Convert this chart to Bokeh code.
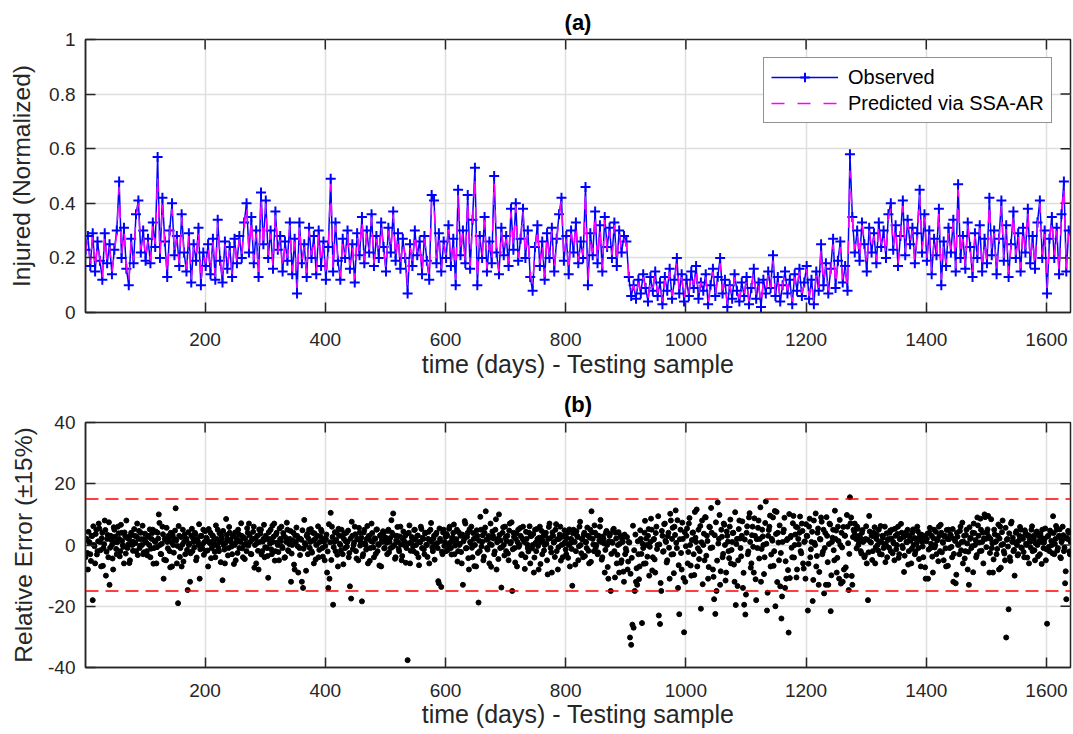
from bokeh.plotting import figure
from bokeh.models import Range1d, FixedTicker, Span
from bokeh.layouts import column
from bokeh.embed import file_html
from bokeh.resources import INLINE

# ---------------- data ----------------
obs_step = 4   # one observed / predicted value every 4 days

observed = [
    0.23, 0.28, 0.17, 0.29, 0.15, 0.26, 0.19, 0.12, 0.29, 0.18, 0.25, 0.14, 0.23, 0.3, 0.48, 0.2, 0.31, 0.16, 0.1, 0.27, 0.18, 0.36, 0.41, 0.22, 0.3,
    0.19, 0.27, 0.18, 0.33, 0.24, 0.57, 0.2, 0.42, 0.26, 0.13, 0.3, 0.4, 0.21, 0.28, 0.17, 0.36, 0.22, 0.15, 0.29, 0.11, 0.25, 0.19, 0.31, 0.1, 0.22,
    0.17, 0.25, 0.14, 0.27, 0.12, 0.34, 0.19, 0.11, 0.26, 0.16, 0.24, 0.13, 0.27, 0.18, 0.28, 0.2, 0.33, 0.4, 0.22, 0.35, 0.18, 0.3, 0.13, 0.44, 0.25,
    0.41, 0.2, 0.3, 0.16, 0.37, 0.23, 0.28, 0.15, 0.26, 0.19, 0.33, 0.14, 0.27, 0.07, 0.33, 0.18, 0.25, 0.13, 0.31, 0.2, 0.28, 0.14, 0.3, 0.17, 0.26,
    0.12, 0.24, 0.49, 0.15, 0.33, 0.19, 0.12, 0.27, 0.2, 0.3, 0.16, 0.25, 0.11, 0.29, 0.21, 0.35, 0.18, 0.3, 0.22, 0.36, 0.17, 0.28, 0.2, 0.33, 0.24,
    0.15, 0.31, 0.22, 0.37, 0.19, 0.29, 0.16, 0.27, 0.2, 0.07, 0.25, 0.17, 0.3, 0.21, 0.26, 0.14, 0.28, 0.19, 0.12, 0.43, 0.41, 0.18, 0.29, 0.15, 0.26,
    0.2, 0.32, 0.17, 0.27, 0.1, 0.45, 0.21, 0.3, 0.18, 0.43, 0.16, 0.34, 0.53, 0.1, 0.28, 0.2, 0.35, 0.15, 0.26, 0.18, 0.5, 0.22, 0.14, 0.31, 0.21,
    0.28, 0.17, 0.38, 0.23, 0.4, 0.19, 0.27, 0.38, 0.2, 0.3, 0.13, 0.08, 0.24, 0.32, 0.17, 0.26, 0.12, 0.29, 0.2, 0.31, 0.15, 0.27, 0.36, 0.42, 0.19,
    0.28, 0.14, 0.3, 0.22, 0.33, 0.18, 0.26, 0.2, 0.46, 0.1, 0.29, 0.21, 0.37, 0.18, 0.32, 0.15, 0.35, 0.24, 0.31, 0.2, 0.33, 0.17, 0.3, 0.22, 0.28,
    0.26, 0.13, 0.06, 0.1, 0.05, 0.12, 0.07, 0.14, 0.09, 0.04, 0.13, 0.08, 0.15, 0.06, 0.11, 0.03, 0.13, 0.08, 0.16, 0.05, 0.12, 0.2, 0.07, 0.14, 0.04,
    0.12, 0.06, 0.15, 0.09, 0.17, 0.05, 0.11, 0.08, 0.14, 0.03, 0.1, 0.16, 0.06, 0.13, 0.2, 0.07, 0.12, 0.02, 0.1, 0.05, 0.14, 0.08, 0.04, 0.11, 0.06,
    0.13, 0.03, 0.09, 0.16, 0.05, 0.11, 0.02, 0.12, 0.07, 0.15, 0.09, 0.21, 0.06, 0.13, 0.04, 0.1, 0.15, 0.07, 0.12, 0.03, 0.14, 0.08, 0.16, 0.06, 0.11,
    0.17, 0.05, 0.12, 0.03, 0.15, 0.08, 0.25, 0.1, 0.18, 0.07, 0.16, 0.27, 0.09, 0.19, 0.26, 0.11, 0.17, 0.08, 0.58, 0.35, 0.22, 0.3, 0.19, 0.33, 0.25,
    0.15, 0.31, 0.22, 0.29, 0.18, 0.33, 0.24, 0.3, 0.2, 0.36, 0.4, 0.23, 0.32, 0.17, 0.28, 0.41, 0.21, 0.34, 0.25, 0.31, 0.18, 0.29, 0.45, 0.22, 0.36,
    0.19, 0.3, 0.14, 0.27, 0.21, 0.38, 0.1, 0.26, 0.17, 0.31, 0.22, 0.34, 0.15, 0.47, 0.2, 0.28, 0.16, 0.33, 0.24, 0.13, 0.29, 0.2, 0.32, 0.15, 0.27,
    0.18, 0.42, 0.21, 0.3, 0.14, 0.27, 0.41, 0.19, 0.32, 0.13, 0.25, 0.37, 0.2, 0.29, 0.15, 0.31, 0.22, 0.38, 0.18, 0.28, 0.16, 0.33, 0.41, 0.2, 0.3,
    0.07, 0.27, 0.35, 0.2, 0.31, 0.14, 0.36, 0.48, 0.15, 0.3,
]

predicted = [
    0.22, 0.27, 0.18, 0.28, 0.16, 0.25, 0.2, 0.13, 0.28, 0.19, 0.24, 0.15, 0.22, 0.29, 0.46, 0.21, 0.3, 0.17, 0.11, 0.26, 0.19, 0.35, 0.4, 0.23, 0.29,
    0.2, 0.26, 0.19, 0.32, 0.25, 0.5, 0.21, 0.4, 0.25, 0.14, 0.29, 0.38, 0.22, 0.27, 0.18, 0.35, 0.21, 0.16, 0.28, 0.12, 0.24, 0.2, 0.3, 0.11, 0.21,
    0.18, 0.24, 0.15, 0.26, 0.13, 0.33, 0.2, 0.12, 0.25, 0.17, 0.23, 0.14, 0.26, 0.19, 0.27, 0.21, 0.32, 0.39, 0.23, 0.34, 0.19, 0.29, 0.14, 0.42, 0.24,
    0.4, 0.21, 0.29, 0.17, 0.36, 0.22, 0.27, 0.16, 0.25, 0.2, 0.32, 0.15, 0.26, 0.09, 0.32, 0.19, 0.24, 0.14, 0.3, 0.21, 0.27, 0.15, 0.29, 0.18, 0.25,
    0.13, 0.23, 0.47, 0.16, 0.32, 0.2, 0.13, 0.26, 0.21, 0.29, 0.17, 0.24, 0.12, 0.28, 0.22, 0.34, 0.19, 0.29, 0.23, 0.35, 0.18, 0.27, 0.21, 0.32, 0.23,
    0.16, 0.3, 0.23, 0.36, 0.2, 0.28, 0.17, 0.26, 0.21, 0.1, 0.24, 0.18, 0.29, 0.22, 0.25, 0.15, 0.27, 0.2, 0.13, 0.41, 0.4, 0.19, 0.28, 0.16, 0.25,
    0.21, 0.31, 0.18, 0.26, 0.12, 0.43, 0.22, 0.29, 0.19, 0.41, 0.17, 0.33, 0.5, 0.12, 0.27, 0.21, 0.34, 0.16, 0.25, 0.19, 0.48, 0.23, 0.15, 0.3, 0.22,
    0.27, 0.18, 0.37, 0.24, 0.39, 0.2, 0.26, 0.37, 0.21, 0.29, 0.14, 0.1, 0.23, 0.31, 0.18, 0.25, 0.13, 0.28, 0.21, 0.3, 0.16, 0.26, 0.35, 0.41, 0.2,
    0.27, 0.15, 0.29, 0.23, 0.32, 0.19, 0.25, 0.21, 0.44, 0.12, 0.28, 0.22, 0.36, 0.19, 0.31, 0.16, 0.34, 0.23, 0.3, 0.21, 0.32, 0.18, 0.29, 0.23, 0.27,
    0.25, 0.14, 0.08, 0.1, 0.06, 0.11, 0.08, 0.13, 0.09, 0.05, 0.12, 0.09, 0.14, 0.07, 0.11, 0.04, 0.12, 0.09, 0.15, 0.06, 0.11, 0.18, 0.08, 0.13, 0.05,
    0.11, 0.07, 0.14, 0.1, 0.16, 0.06, 0.11, 0.09, 0.13, 0.04, 0.1, 0.15, 0.07, 0.12, 0.18, 0.08, 0.11, 0.03, 0.1, 0.06, 0.13, 0.09, 0.05, 0.1, 0.07,
    0.12, 0.04, 0.09, 0.15, 0.06, 0.1, 0.03, 0.11, 0.08, 0.14, 0.09, 0.19, 0.07, 0.12, 0.05, 0.1, 0.14, 0.08, 0.11, 0.04, 0.13, 0.09, 0.15, 0.07, 0.1,
    0.16, 0.06, 0.11, 0.04, 0.14, 0.09, 0.23, 0.11, 0.17, 0.08, 0.15, 0.25, 0.1, 0.18, 0.24, 0.12, 0.16, 0.09, 0.52, 0.34, 0.23, 0.29, 0.2, 0.32, 0.26,
    0.17, 0.3, 0.23, 0.28, 0.19, 0.32, 0.25, 0.29, 0.21, 0.35, 0.38, 0.24, 0.31, 0.18, 0.27, 0.39, 0.22, 0.33, 0.26, 0.3, 0.19, 0.28, 0.43, 0.23, 0.35,
    0.2, 0.29, 0.15, 0.26, 0.22, 0.37, 0.12, 0.25, 0.18, 0.3, 0.23, 0.33, 0.16, 0.45, 0.21, 0.27, 0.17, 0.32, 0.23, 0.14, 0.28, 0.21, 0.31, 0.16, 0.26,
    0.19, 0.4, 0.22, 0.29, 0.15, 0.26, 0.39, 0.2, 0.31, 0.14, 0.24, 0.36, 0.21, 0.28, 0.16, 0.3, 0.23, 0.37, 0.19, 0.27, 0.17, 0.32, 0.4, 0.21, 0.29,
    0.09, 0.26, 0.34, 0.21, 0.3, 0.15, 0.35, 0.46, 0.16, 0.29,
]

# relative error (%) on odd days 1, 3, 5, ...
rel_error_odd = [
    -4, 2, -8, 1, -3, 3, -18, 0, -6, 5, -2, 7, 1, -7, 4, -1, 8, -10, 2, -4, -13, 3, 0, -8, 5, 1, -3, 6, 2, -2, 4, 0, -6, 3, 8, -1, 2, -5, 4, 0, 1, 3, -2, 7, 2, -1, 4, 0, -3, 2,
    1, -2, 3, 0, -4, 2, 5, -1, 1, -6, 4, 10, 0, -3, 6, -11, 2, -5, 1, 3, -2, 4, -7, 0, 2, 12, -6, -19, 3, -1, -7, 5, 1, -3, 2, -14.7, 0, -12, 3, -2, 1, 4, -5, 2, 0, -11, 3, -1, 5, 1,
    -2, 2, -7, 1, 4, -1, 3, 0, -4, 2, 5, -2, 1, 3, -11.5, 0, -6, 8.5, 2, -1, 4, 1, -3, 3, 0, -5, 2, 5, -1, 1, 3, -4, 0, 2, -2, 4, 7, 1, -3, 2, 6, 0, -6, 3, -8, 1, 5, -2, 2, -4,
    3, -1, -10.7, 2, 5, -3, 1, 7, -2, 4, 0, -5, 2, 6, -1, 3, -4, 1, 5, -2, 2, -12, 0, 4, -8, 1, 3, -9, -1, 2, -12, -14, 8.2, 0, 3, -3, 5, 1, -2, 4, -6, 2, 0, 3, -4, 1, 5, -1, 2, -5,
    2, -9, -14, -11, 10.5, 6, -19.5, 1, -2, 4, -7, 3, 0, 5, -3, 2, -1, 4, 1, -4, -13.5, -17.5, 3, 0, 6, -2, 2, -5, 4, 1, -18.4, -3, 5, 0, 2, -6, 3, -1, 7, 1, -4, 2, 5, -2, 0, 3, -7, 1, 4, -1,
    2, -3, 5, 1, -1, 4, 10.3, 0, -4, 3, 1, -2, 6, -5, 2, 0, 3, -1, -37.6, 4, -6, 1, 2, -2, 5, 0, 3, -4, 1, 6, -1, 2, -3, 4, 0, 2, -6, 5, 1, -2, 3, 0, 4, -1, -12.5, 2, -13.7, -3, 5, 1,
    -2, 3, 0, 6, -1, 2, 4, -3, 1, 5, -2, 0, 3, -6, -13, 2, 7, -1, 4, -8, 1, 6, -4, 2, 0, -7, 3, -18.8, -2, 5, 1, -5, 4, 11, -1, 2, -6, 7, 0, 3, -3, 5, -8, 2, 10, -1, -13.9, 4, 0, 6,
    -2, 3, -5, 7, 1, -15, 4, -1, 2, -7, 5, 0, 3, -3, 6, 1, -4, 2, -1, 4, -6, 3, 0, -9, 5, -2, 2, -8, 6, 1, -3, 3, 0, 4, -5, 2, 7, -1, -9, 3, 1, 5, -2, -8, 2, 6, 0, -4, 3, 1,
    -3, 4, 0, -7, 2, -13.3, 5, 1, -2, 3, -5, 6, 0, 2, -4, 4, 1, -1, 3, -6, 5, 11, 2, -2, 4, 0, -3, 3, 6, 1, -4, 2, -9, 4, 0, -11, 3, -15, 1, 5, -2, 4, -6, 0, -9, 3, -5, 1, -12, -3,
    -2, -8, 1, -30.2, -32.6, -26, -27, -15, -12, -13, -3, -7, 2, -25.5, -1, 4, -6, 0, 3, -10, 1, 5, -4, 2, -9, 6, 0, -23, -25.8, -15, 3, -2, 7, 1, -5, 4, -11, 8, 2, -3, 6, 11.3, -1, -14, -22.6, 5, -8, 2, -28.5, -12,
    3, -6, 7, 0, -10, 4, -3, 10.8, 1, -7, 5, -2, -20.8, 8, 0, -5, 9, 3, -11, 6, -1, 4, -8, -17.7, -22.5, -15, 13.9, 2, -13, 5, -4, 7, 0, -9, 3, -2, 6, -6, 1, 4, -12, -19.6, 2, -5, 8, -1, 3, -14, -19.5, -22.7,
    4, -3, 9, 1, -6, 6, -9, 3, -18, -1, 8, 2, -12, 5, 0, -4, 14.2, -21.4, 3, 6, -7, 2, 9, -2, -20, 10.8, 4, -5, -13.5, -24, 1, 5, -14, -11, 2, -28.6, -10.8, 3, -4, 9.5, 0, 6, -8, 2, 4, -2, 7, -6, 1, -11,
    3, -21.4, 6, -4, 1, -18.3, 8, 0, -7, 4, -13, 2, 9, -3, 5, -1, -13, 3, -13, 7, -21.6, 1, 5, -5, 2, -9, 6, -11, 0, 4, -12, -8, 3, -10, 6, -14.7, 15.6, 9, -13, 5, 7, 2, 6, 0, 3, -2, 4, 1, -4, 2,
    -6, -18, 9.5, 1, 3, -2, 4, -6, 2, 0, 5, -3, 1, 3, -1, 6, 0, -4, 2, 4, -2, 5, 1, -5, 3, 0, 6, -3, 2, 4, -1, -8.8, 3, 1, 5, -2, 2, -6, 4, 0, -3, 2, 6, -1, 3, -7, 1, -4, 2, -11,
    2, -11, 4, -1, 3, -9, 5, 0, -3, 2, 6, -2, 4, 1, -5, 3, -7, 2, 5, -1, 3, -4, -12, 2, -12.5, 4, 0, -3, 6, 1, -6, 3, -2, 5, -8, -13, 2, -1, 4, 7, 0, -4, 9, 3, -2, 5, 1, -6, 10, 2,
    4, 9.5, -9, 2, -1, -9, 5, 1, -3, 3, -8, 6, 0, 8, -2, -5, -30.2, 2, -21, -4, 7, 1, -2, -10, 4, 0, -3, 3, 5, -1, 2, -4, 4, 0, 3, -6, 1, 5, -2, 2, -5, 4, 0, 3, -3, 1, 5, -1, 2, -5,
    -25.7, 3, -2, 4, 0, 9.4, -3, 2, 5, -1, 3, -4, 1, 6, -2, -12.5, -17.7, 2, 4, -3,
]

# relative error (%) on even days 2, 4, 6, ...
rel_error_even = [
    1.8, -2.6, 4.3, 0.7, -5.2, 2.9, 6.1, -0.4, 3.6, -3.1, 1.2, 5.4, -1.7, 2.2, -6.8, 0.3, 4.9, -2.2, 3.3, 7.4, -0.9, 1.6, -4.4, 5.8, 2.7, -1.3, 0.9, 3.8, -3.7, 6.6, 1.4, -0.6, 4.1, -2.8, 2.4, 0.2, -5.9, 3.1, 1.1, -1.9, 5.2, 0.6, 2.8, -3.3, 4.6, -0.2, 1.9, 6.3, -2.4, 3.7,
    0.8, -3.4, 2.6, 5.1, -1.2, 3.9, -6.1, 1.3, 4.4, -0.7, 2.1, 7.2, -2.9, 0.4, 3.5, -4.8, 1.7, 5.6, -1.1, 2.3, -7.3, 0.9, 3.2, -2.5, 4.7, 1.5, -0.3, 6.2, -3.9, 2.6, 0.1, -5.4, 3.4, 1.8, -1.6, 4.2, 0.5, -2.7, 5.3, 2.2, -0.8, 3.6, -4.1, 1.2, 6.8, -1.4, 2.9, 0.3, -3.2, 4.5,
    2.4, -1.8, 5.2, 0.6, -4.3, 3.1, 1.4, -2.2, 6.4, 0.2, -0.9, 3.8, -5.6, 2.1, 4.6, -1.5, 0.7, 3.3, -3.4, 5.9, 1.6, -0.5, 2.7, -6.2, 4.1, 0.9, -2.6, 3.5, 1.3, 7.1, -1.1, 2.5, -4.6, 0.4, 5.5, -0.2, 3.2, -2.9, 1.8, 4.3, -7.4, 2.2, 0.6, -1.9, 5.1, 3.7, -3.1, 1.1, 6.6, -0.7,
    1.9, -3.6, 4.2, 0.5, -1.4, 6.3, 2.7, -5.1, 3.4, 0.8, -2.3, 5.4, 1.2, -0.6, 3.9, -4.2, 2.4, 7.3, -1.7, 0.3, 4.6, -2.8, 1.5, -6.4, 3.1, 5.7, -0.4, 2.2, -3.3, 1.7, 4.8, -1.2, 0.6, -8.4, 3.6, 2.1, -0.9, 5.2, -2.5, 1.4, 3.8, -4.7, 0.2, 6.1, -1.6, 2.8, 4.4, -3.8, 1.1, -0.3,
    3.4, -2.1, 6.8, 0.9, -4.9, 2.6, -0.7, 4.2, 1.6, -3.2, 5.3, 0.4, -1.8, 2.9, -6.3, 3.7, 1.2, -0.5, 4.7, -2.6, 2.1, 7.6, -1.3, 0.8, 3.5, -4.4, 1.9, 5.6, -0.2, 2.4, -3.7, 4.1, 0.6, -1.5, 6.2, 2.8, -5.2, 1.3, 3.9, -0.8, 2.2, -2.9, 5.1, 0.3, -6.7, 3.3, 1.7, 4.5, -1.1, 2.5,
    0.7, 4.6, -2.4, 2.3, 8.1, -0.6, 3.2, -4.5, 1.5, 5.9, -1.2, 2.8, 0.2, -3.6, 4.4, 1.1, -5.8, 3.7, 0.5, 6.4, -1.9, 2.6, -0.4, 4.9, 1.8, -2.7, 3.1, -6.6, 0.9, 5.2, 2.4, -1.4, 3.8, 0.1, -3.9, 4.3, 1.6, 7.2, -0.8, 2.1, -4.8, 3.5, 0.6, -11.8, 5.4, 1.3, -2.2, 4.1, -0.3, 2.7,
    3.6, -1.6, 5.3, 0.8, -3.1, 2.5, 6.7, -0.2, 1.9, -5.4, 4.2, 0.4, -2.3, 3.4, 1.2, 7.8, -1.1, 2.7, -4.3, 5.1, 0.6, -0.9, 3.9, -6.9, 2.2, 4.8, -2.6, 1.4, 9.2, -0.5, 3.1, -3.8, 5.7, 1.7, -1.5, 2.9, 0.3, -7.1, 4.4, 2.1, -2.1, 8.4, 0.9, -4.6, 3.3, 1.5, -0.7, 5.8, -3.4, 2.4,
    1.3, -2.8, 4.7, 0.5, 7.4, -1.4, 2.6, -5.7, 3.8, 0.9, -0.6, 5.5, -3.3, 2.1, 1.6, -7.8, 4.3, 0.2, -2.1, 6.1, 2.9, -1.1, 3.6, -4.1, 0.7, 5.2, -0.3, 2.4, -6.2, 4.6, 1.4, -1.8, 3.2, 0.4, -9.6, 5.9, 2.2, -2.4, 4.1, 0.8, -3.9, 6.8, 1.9, -0.7, 3.4, -5.1, 2.7, 0.3, 4.8, -1.5,
    2.3, -4.2, 5.1, 0.6, -1.3, 3.8, 1.1, -6.4, 4.5, 2.6, -0.4, 7.6, -2.7, 1.8, 3.3, -3.6, 0.9, 5.7, -1.9, 2.4, -5.5, 4.1, 0.2, 6.4, -0.8, 3.1, -2.4, 1.5, 8.2, -4.8, 2.8, 0.5, -1.6, 4.6, -7.2, 1.2, 3.7, -2.9, 0.7, 5.3, -10.6, 2.1, -3.2, 4.2, 0.4, -5.8, 1.9, -8.7, 3.4, -1.2,
    2.6, -5.4, 0.8, -9.4, -4.2, 6.3, -1.7, 3.4, -7.6, 1.2, -11.2, 4.8, -2.9, 0.4, -6.1, 7.9, 2.1, -3.8, 5.2, -0.6, 8.6, -8.3, 1.7, -4.7, 3.9, -1.3, 9.4, 0.2, -12.4, 4.6, -2.2, 6.8, 1.4, -5.7, 2.9, -0.9, 10.2, -3.1, 5.6, -9.2, 3.3, 0.7, 8.1, -6.6, 1.9, -2.6, 7.3, -10.8, 4.2, -0.4,
    5.4, -2.3, 8.8, -6.7, 1.6, 4.1, -9.8, 2.4, 11.6, -1.1, -4.6, 6.2, 0.9, -12.8, 3.7, 9.1, -3.5, 1.3, -7.2, 5.8, 12.1, -0.8, -10.4, 3.2, 7.4, -5.1, 0.5, 9.8, -8.6, 2.7, -2.9, 6.6, -11.6, 4.4, 1.1, -4.3, 8.3, -1.6, 3.9, -6.4, 10.7, 0.3, -13.4, 5.2, 2.1, -3.7, 7.7, -9.1, 1.8, -16.2,
    6.1, -2.1, 10.4, -7.4, 3.2, -0.6, 8.7, -11.2, 1.9, 5.6, -4.4, 12.3, -1.3, 2.8, -9.5, 7.2, 0.4, -15.6, 4.9, 9.6, -3.1, 1.4, -6.8, 11.1, 3.6, -12.1, 0.8, 6.4, -2.6, -16.8, 4.2, 8.9, -5.3, 1.6, -8.2, 10.1, 2.5, -0.9, 7.1, -4.1, 3.4, -10.6, 5.7, 0.2, 9.3, -2.7, 4.6, -7.7, 1.2, 6.8,
    2.9, -6.1, 8.6, -1.4, 4.3, -11.4, 0.7, 10.3, -3.6, 5.4, -8.8, 1.8, 7.6, -2.2, -15.8, 3.9, 9.1, -5.6, 0.3, 6.7, -9.9, 2.4, -1.7, 11.2, 4.7, -4.2, 1.3, 8.2, -12.6, -0.8, 5.9, 3.1, -7.3, 9.8, 0.6, -2.9, 7.1, -10.1, 2.6, 4.4, 3.2, -1.1, 5.3, 0.7, 2.4, -2.8, 4.9, 1.5, -3.4, 6.1,
    1.7, -2.4, 4.4, 0.8, -4.9, 2.9, 5.8, -0.7, 3.3, -1.8, 1.1, 6.2, -3.1, 2.4, 0.3, -5.6, 3.8, 1.6, -0.9, 4.7, 2.1, -2.7, 0.5, 5.3, -1.4, 3.6, -4.2, 1.9, 6.9, -0.3, 2.6, -3.5, 4.1, 0.9, -6.4, 3.1, 1.4, -1.2, 5.1, 2.3, -2.1, 0.6, 4.5, -4.6, 1.8, 3.4, -0.5, 2.9, -7.3, 1.2,
    3.7, -1.5, 5.6, 0.4, -3.8, 2.2, -0.8, 4.3, 1.5, -5.3, 3.1, 6.6, -2.4, 0.7, 2.8, -1.1, 4.9, -6.8, 1.9, 3.5, -0.6, 5.2, -2.9, 1.3, -9.7, 2.7, 0.2, 4.6, -1.7, 7.3, 1.1, -4.4, 3.3, 0.5, -2.2, 5.8, 2.4, -0.4, -8.9, 3.9, 1.6, -3.3, 6.4, 0.8, 8.6, -1.9, 4.1, 2.2, 9.1, -0.7,
    5.1, 2.7, -2.6, 8.4, 0.6, -4.7, 3.5, 1.2, -1.3, 6.7, 2.1, -7.4, 4.2, 0.3, -2.8, 5.6, 1.7, -0.5, 3.8, -5.2, 7.6, 2.4, -1.6, 0.9, 4.5, -3.4, 1.4, 5.9, -0.8, 2.6, -2.3, 4.8, 0.4, -4.1, 3.2, 1.8, -0.9, 6.1, 2.9, -1.7, 0.6, 4.4, -3.7, 1.3, 3.6, -6.2, 2.2, 0.8, 5.4, -1.4,
    2.8, -0.6, 4.7, 1.3, -2.7, 3.9, 0.4, 6.2, -1.8, 2.5, 5.1, -4.3, 1.6, 3.2, -0.9, -8.6, 2.3, 4.6, -2.1, 1.1,
]

x_ticks = [200, 400, 600, 800, 1000, 1200, 1400, 1600]
ya_ticks = [0, 0.2, 0.4, 0.6, 0.8, 1]
ya_labels = ["0", "0.2", "0.4", "0.6", "0.8", "1"]
yb_ticks = [-40, -20, 0, 20, 40]
yb_labels = ["-40", "-20", "0", "20", "40"]
error_band = [15, -15]

obs_days = [1 + obs_step * i for i in range(len(observed))]
err_days = [1 + 2 * i for i in range(len(rel_error_odd))] + [2 + 2 * i for i in range(len(rel_error_even))]
err_vals = rel_error_odd + rel_error_even

# ---------------- layout / styling constants ----------------
FONT = "Liberation Sans"
AX = "#262626"
GRID = "#dedede"
W = 1073
BORDER_L, BORDER_R = 85, 3
FRAME_W = W - BORDER_L - BORDER_R
TICK_LEN = 10
X_START, X_END = 1, 1640


def style_axis(ax, ticks, label_standoff, axis_label_standoff, label_size):
    ax.ticker = FixedTicker(ticks=ticks)
    ax.major_tick_in = TICK_LEN
    ax.major_tick_out = 0
    ax.minor_tick_line_color = None
    ax.major_tick_line_color = AX
    ax.major_tick_line_width = 1.5
    ax.axis_line_color = AX
    ax.axis_line_width = 1.5
    ax.major_label_text_font = FONT
    ax.major_label_text_font_size = "19px"
    ax.major_label_text_color = AX
    ax.major_label_standoff = label_standoff
    ax.axis_label_text_font = FONT
    ax.axis_label_text_font_size = label_size
    ax.axis_label_text_font_style = "normal"
    ax.axis_label_text_color = AX
    ax.axis_label_standoff = axis_label_standoff


def style_fig(p, title_standoff):
    p.title.align = "center"
    p.title.vertical_align = "middle"
    p.title.text_font = FONT
    p.title.text_font_size = "22px"
    p.title.text_font_style = "bold"
    p.title.text_color = "#000000"
    p.title.standoff = title_standoff
    p.outline_line_color = AX
    p.outline_line_width = 1.5
    p.xgrid.grid_line_color = GRID
    p.ygrid.grid_line_color = GRID
    p.xgrid.grid_line_width = 1.5
    p.ygrid.grid_line_width = 1.5
    p.background_fill_color = "white"
    p.border_fill_color = "white"


def mirror_ticks(p, y_ticks, y_lo, y_hi, frame_h):
    """Inward tick marks on the top and right edges of the box (as MATLAB draws them)."""
    dy = TICK_LEN * (y_hi - y_lo) / frame_h
    dx = TICK_LEN * (X_END - X_START) / FRAME_W
    p.segment(x0=x_ticks, y0=[y_hi] * len(x_ticks), x1=x_ticks, y1=[y_hi - dy] * len(x_ticks),
              line_color=AX, line_width=1.5)
    p.segment(x0=[X_END] * len(y_ticks), y0=y_ticks, x1=[X_END - dx] * len(y_ticks), y1=y_ticks,
              line_color=AX, line_width=1.5)


# ---------------- panel (a) ----------------
A_TOP, A_FRAME_H, A_BOTTOM = 39, 273, 72
p1 = figure(width=W, height=A_TOP + A_FRAME_H + A_BOTTOM, title="(a)",
            x_range=Range1d(X_START, X_END), y_range=Range1d(0, 1),
            output_backend="svg", toolbar_location=None,
            min_border_left=BORDER_L, min_border_right=BORDER_R,
            min_border_top=A_TOP, min_border_bottom=A_BOTTOM)
style_fig(p1, 7)
p1.xgrid.ticker = FixedTicker(ticks=x_ticks)
p1.ygrid.ticker = FixedTicker(ticks=ya_ticks)
style_axis(p1.xaxis[0], x_ticks, 20, 1, "25px")
style_axis(p1.yaxis[0], ya_ticks, 10, 11, "24.5px")
p1.yaxis[0].major_label_overrides = dict(zip(ya_ticks, ya_labels))
p1.xaxis[0].axis_label = "time (days) - Testing sample"
p1.yaxis[0].axis_label = "Injured (Normalized)"
mirror_ticks(p1, ya_ticks[1:-1], 0, 1, A_FRAME_H)

p1.line(obs_days, observed, line_color="#0000ff", line_width=1.5, legend_label="Observed")
p1.scatter(obs_days, observed, marker="cross", size=10, line_color="#0000ff",
           line_width=2, legend_label="Observed")
p1.line(obs_days, predicted, line_color="#ff00ff", line_width=1.5, line_dash="13 13",
        legend_label="Predicted via SSA-AR")

lg = p1.legend[0]
lg.location = (678, 189)
lg.border_line_color = AX
lg.border_line_width = 1.5
lg.background_fill_alpha = 1
lg.label_text_font = FONT
lg.label_text_font_size = "20px"
lg.label_text_color = "#000000"
lg.glyph_width = 67
lg.glyph_height = 24
lg.label_height = 24
lg.spacing = 2
lg.padding = 7
lg.label_standoff = 10

# ---------------- panel (b) ----------------
B_TOP, B_FRAME_H, B_BOTTOM = 38, 245, 67
p2 = figure(width=W, height=B_TOP + B_FRAME_H + B_BOTTOM, title="(b)",
            x_range=Range1d(X_START, X_END), y_range=Range1d(-40, 40),
            output_backend="svg", toolbar_location=None,
            min_border_left=BORDER_L, min_border_right=BORDER_R,
            min_border_top=B_TOP, min_border_bottom=B_BOTTOM)
style_fig(p2, 10)
p2.xgrid.ticker = FixedTicker(ticks=x_ticks)
p2.ygrid.ticker = FixedTicker(ticks=yb_ticks)
style_axis(p2.xaxis[0], x_ticks, 16, 0, "25px")
style_axis(p2.yaxis[0], yb_ticks, 10, 8, "24.5px")
p2.yaxis[0].major_label_overrides = dict(zip(yb_ticks, yb_labels))
p2.xaxis[0].axis_label = "time (days) - Testing sample"
p2.yaxis[0].axis_label = "Relative Error (\u00b115%)"
mirror_ticks(p2, yb_ticks[1:-1], -40, 40, B_FRAME_H)

for level in error_band:
    p2.add_layout(Span(location=level, dimension="width", line_color="#ff0000",
                       line_width=1.5, line_dash="13 7"))

p2.scatter(err_days, err_vals, marker="circle", size=5,
           fill_color="#000000", line_color="#000000")

layout = column(p1, p2)
open("out.html", "w").write(file_html(layout, INLINE, title="SSA-AR"))
